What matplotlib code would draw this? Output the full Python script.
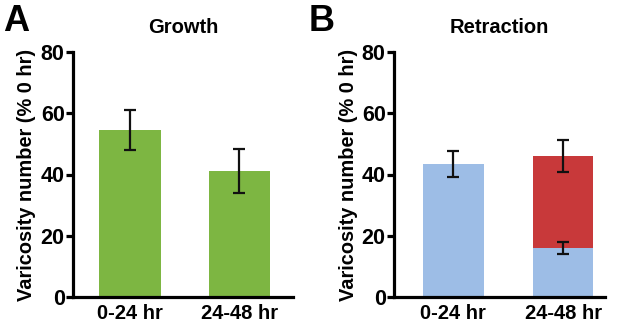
import matplotlib
matplotlib.use("Agg")
import matplotlib.pyplot as plt

plt.rcParams['font.family'] = ['Liberation Sans', 'DejaVu Sans']
plt.rcParams['font.weight'] = 'bold'

categories = ["0-24 hr", "24-48 hr"]
growth_vals = [54.5, 41.0]
growth_err = [6.6, 7.2]
retr_total = [43.5, 46.0]
retr_total_err = [4.3, 5.2]
retr_blue = [43.5, 16.0]
retr_blue_err = [None, 2.0]
yticks = [0, 20, 40, 60, 80]

GREEN = "#7db642"
BLUE = "#9dbde6"
RED = "#c8393a"

W, H = 617, 323
fig = plt.figure(figsize=(W/100, H/100), dpi=100)
axA = fig.add_axes([73/W, 26/H, 220/W, 245/H])
axB = fig.add_axes([394/W, 26/H, 211/W, 245/H])

def style(ax, xlim):
    ax.set_ylim(0, 80)
    ax.set_xlim(*xlim)
    ax.set_yticks(yticks)
    ax.set_xticks(range(len(categories)))
    ax.set_xticklabels(categories)
    for s in ["top", "right"]:
        ax.spines[s].set_visible(False)
    for s in ["left", "bottom"]:
        ax.spines[s].set_linewidth(2.3)
    ax.tick_params(axis='y', length=5, width=2.3, labelsize=15.5, pad=1)
    ax.tick_params(axis='x', length=0, labelsize=14.5, pad=5)
    ax.set_ylabel("Varicosity number (% 0 hr)", fontsize=14.4, fontweight='bold', labelpad=3)

x = list(range(len(categories)))
ekw = dict(ecolor='#111111', elinewidth=1.6, capsize=4.5, capthick=1.6)

axA.bar(x, growth_vals, width=0.56, color=GREEN)
axA.errorbar(x, growth_vals, yerr=growth_err, fmt='none', **ekw)
style(axA, (-0.52, 1.49))
axA.set_title("Growth", fontsize=14.5, fontweight='bold', pad=14)

axB.bar(x, retr_total, width=0.55, color=[BLUE, RED])
axB.bar(x, retr_blue, width=0.55, color=BLUE)
axB.errorbar(x, retr_total, yerr=retr_total_err, fmt='none', **ekw)
axB.errorbar([1], [retr_blue[1]], yerr=[retr_blue_err[1]], fmt='none', **ekw)
style(axB, (-0.54, 1.38))
axB.set_title("Retraction", fontsize=14.5, fontweight='bold', pad=14)

fig.text(3/W, 1 - 31/H, "A", fontsize=26, fontweight='bold', va='baseline')
fig.text(309/W, 1 - 31/H, "B", fontsize=26, fontweight='bold', va='baseline')

fig.savefig("out.png", dpi=100)
